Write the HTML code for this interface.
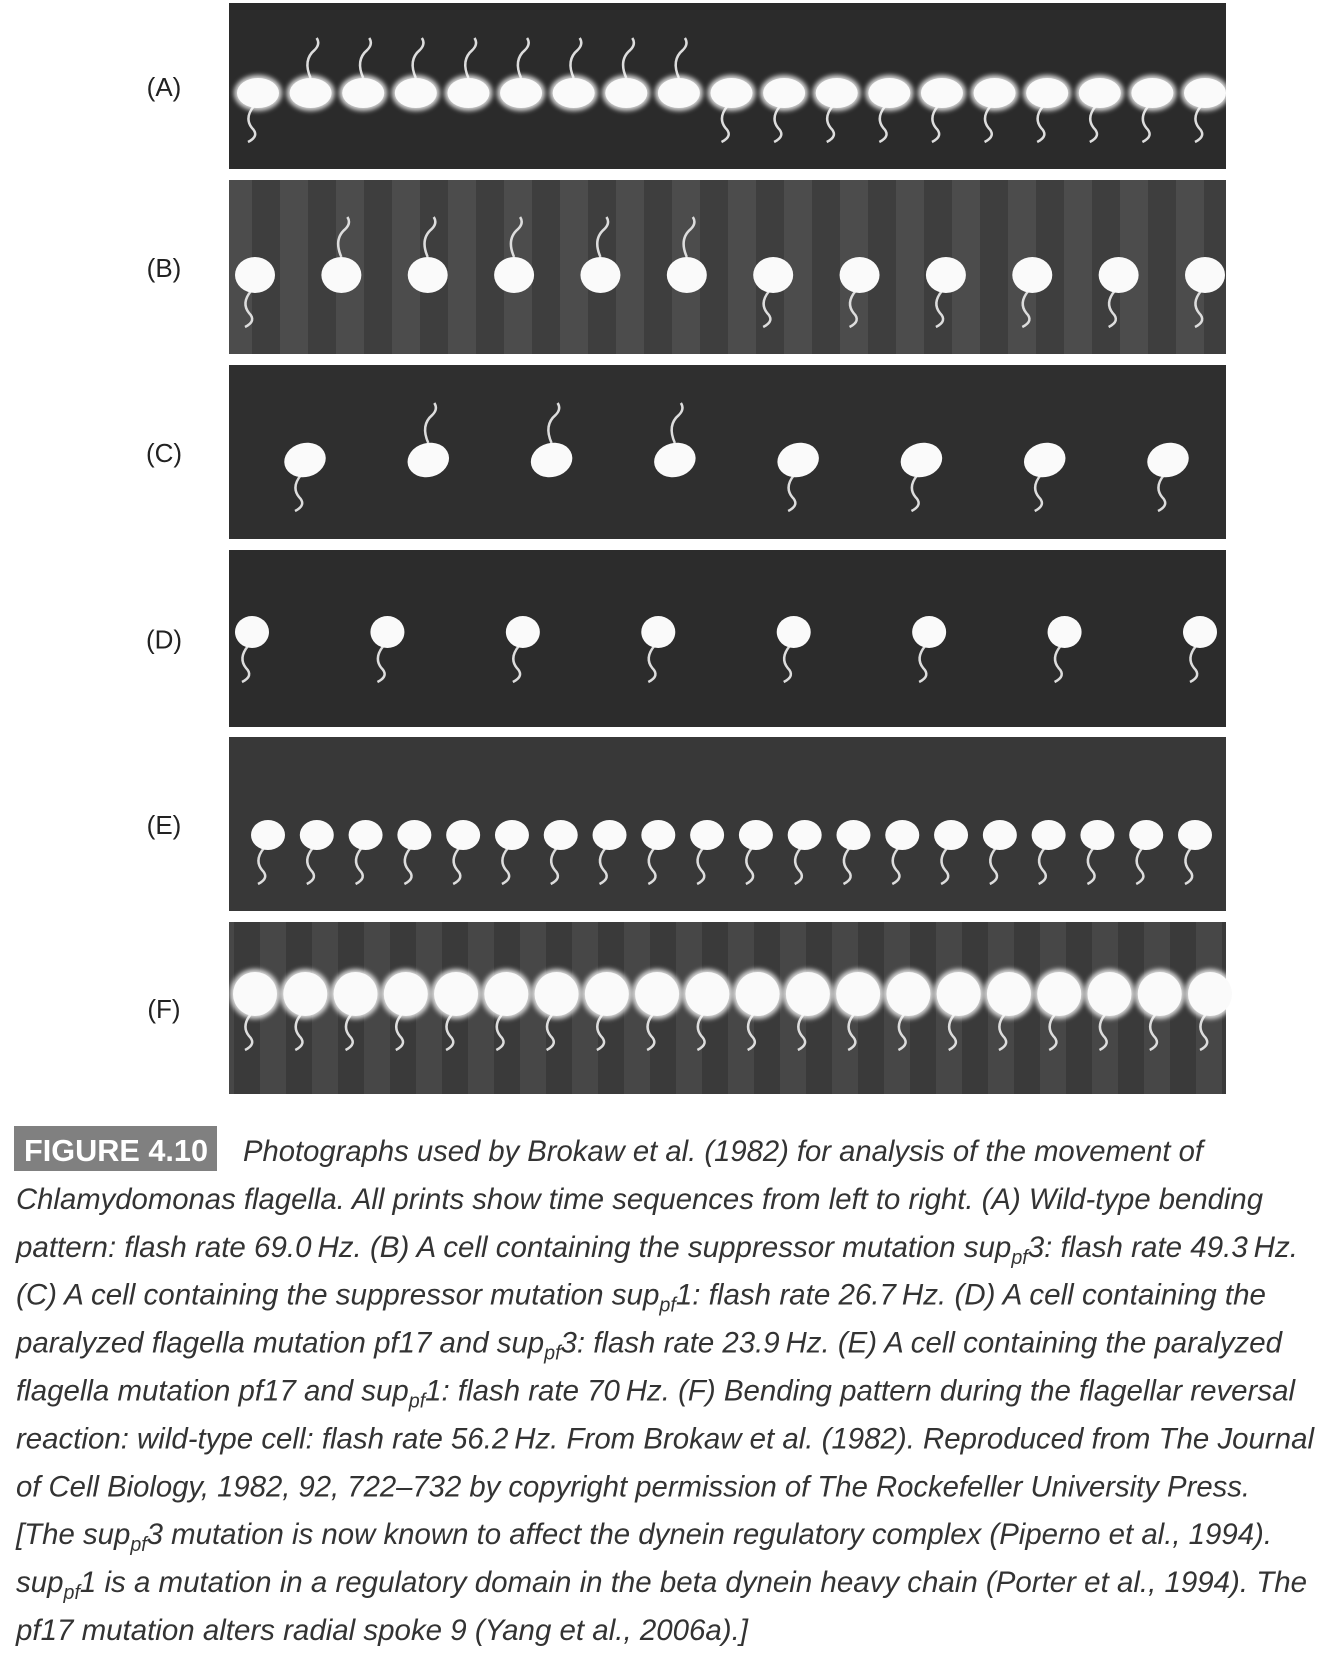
<!DOCTYPE html>
<html><head><meta charset="utf-8">
<style>
html,body{margin:0;padding:0;background:#fff;}
body{width:1321px;height:1656px;position:relative;overflow:hidden;font-family:"Liberation Sans",sans-serif;}
.lab{position:absolute;width:80px;text-align:center;font-size:24px;color:#222;}
</style></head>
<body>
<svg id="fig" width="1321" height="1656" style="position:absolute;left:0;top:0">
<defs>
<filter id="glow" x="-50%" y="-50%" width="200%" height="200%"><feGaussianBlur stdDeviation="2.5"/></filter>
<pattern id="stripes" width="56" height="10" patternUnits="userSpaceOnUse"><rect width="28" height="10" fill="#4c4c4c"/><rect x="28" width="28" height="10" fill="#3e3e3e"/></pattern>
<pattern id="stripesF" width="52" height="10" patternUnits="userSpaceOnUse"><rect width="26" height="10" fill="#474747"/><rect x="26" width="26" height="10" fill="#3a3a3a"/></pattern>
</defs>
<g id="panels"></g>
<g id="caption">
<rect x="14" y="1126" width="203" height="45" fill="#808080"/>
<text x="24" y="1161" font-family="Liberation Sans Narrow, Liberation Sans, sans-serif" font-weight="bold" font-size="31" fill="#fff" textLength="184" lengthAdjust="spacingAndGlyphs">FIGURE 4.10</text>
</g>
</svg>
<script>
const svg=document.getElementById('fig');
const NS='http://www.w3.org/2000/svg';
const panelsG=document.getElementById('panels');
function mk(tag,attrs,parent){const e=document.createElementNS(NS,tag);for(const k in attrs)e.setAttribute(k,attrs[k]);parent.appendChild(e);return e;}
const panelLetters=['A','B','C','D','E','F'];
const panelTop=[3,180,365,550,737,922];
const panelBottom=[169,354,539,727,911,1094];
const panelFill=['#2b2b2b','url(#stripes)','#2f2f2f','#2c2c2c','#383838','url(#stripesF)'];
const cellCounts=[19,12,8,8,20,20];
const cellStart=[258,255,305,252,268,255];
const cellEnd=[1205,1205,1168,1200,1195,1210];
const cellY=[93,275,460,632,835,994];
const cellRx=[21,20,21,17,17,22];
const cellRy=[15,18,17,16,15,22];
panelLetters.forEach((L,i)=>{
  const g=mk('g',{},panelsG);
  
  
  mk('rect',{x:229,y:panelTop[i],width:997,height:panelBottom[i]-panelTop[i],fill:panelFill[i]},g);
  const n=cellCounts[i];
  for(let k=0;k<n;k++){
    const cx=cellStart[i]+(cellEnd[i]-cellStart[i])*k/(n-1);
    const cy=cellY[i];
    const c=mk('g',{},g);
    
    
    const ph=k/n*Math.PI*2;
    const up=(i===0||i===1||i===2)&&Math.sin(ph)>0.3;
    let d;
    if(up){d=`M${cx} ${cy-cellRy[i]} q ${-8} ${-18} ${4} ${-28} q ${6} ${-6} ${2} ${-12}`;}
    else{d=`M${cx-4} ${cy+cellRy[i]-2} q ${-10} ${12} ${-2} ${22} q ${8} ${8} ${-4} ${14}`;}
    mk('path',{d:d,stroke:'#ddd','stroke-width':2.5,fill:'none'},c);
    if(i===5||i===0) mk('ellipse',{cx:cx,cy:cy,rx:cellRx[i]+3,ry:cellRy[i]+3,fill:'#fff',filter:'url(#glow)',opacity:0.8},c);
    mk('ellipse',{cx:cx,cy:cy,rx:cellRx[i],ry:cellRy[i],fill:'#fafafa',transform:`rotate(${i===2?-15:0} ${cx} ${cy})`},c);
  }
  const t=mk('text',{x:164,y:(panelTop[i]+panelBottom[i])/2+10,'font-size':26,'text-anchor':'middle',fill:'#222','font-family':'Liberation Sans, sans-serif'},svg);
  
  
  t.textContent='('+L+')';
});
const cap=document.getElementById('caption');
const lines=[
 [243,1203,'Photographs used by Brokaw et al. (1982) for analysis of the movement of'],
 [16,1263,'Chlamydomonas flagella. All prints show time sequences from left to right. (A) Wild-type bending'],
 [16,1298,'pattern: flash rate 69.0\u2009Hz. (B) A cell containing the suppressor mutation sup|pf|3: flash rate 49.3\u2009Hz.'],
 [16,1266,'(C) A cell containing the suppressor mutation sup|pf|1: flash rate 26.7\u2009Hz. (D) A cell containing the'],
 [16,1282,'paralyzed flagella mutation pf17 and sup|pf|3: flash rate 23.9\u2009Hz. (E) A cell containing the paralyzed'],
 [16,1295,'flagella mutation pf17 and sup|pf|1: flash rate 70\u2009Hz. (F) Bending pattern during the flagellar reversal'],
 [16,1314,'reaction: wild-type cell: flash rate 56.2\u2009Hz. From Brokaw et al. (1982). Reproduced from The Journal'],
 [16,1250,'of Cell Biology, 1982, 92, 722\u2013732 by copyright permission of The Rockefeller University Press.'],
 [16,1272,'[The sup|pf|3 mutation is now known to affect the dynein regulatory complex (Piperno et al., 1994).'],
 [16,1307,'sup|pf|1 is a mutation in a regulatory domain in the beta dynein heavy chain (Porter et al., 1994). The'],
 [16,748,'pf17 mutation alters radial spoke 9 (Yang et al., 2006a).]']
];
lines.forEach((ln,i)=>{
  const t=mk('text',{x:ln[0],y:1161+i*47.9,'font-size':30,'font-style':'italic',fill:'#333','font-family':'Liberation Sans Narrow, Liberation Sans, sans-serif',textLength:ln[1]-ln[0],lengthAdjust:'spacingAndGlyphs'},cap);
  
  
  ln[2].split('|').forEach((part,j)=>{
    const s=mk('tspan',{},t);
    if(j%2===1){s.setAttribute('font-size','20');s.setAttribute('dy','7');}
    else if(j>0){s.setAttribute('dy','-7');}
    s.textContent=part;
  });
});
</script>
</body></html>
